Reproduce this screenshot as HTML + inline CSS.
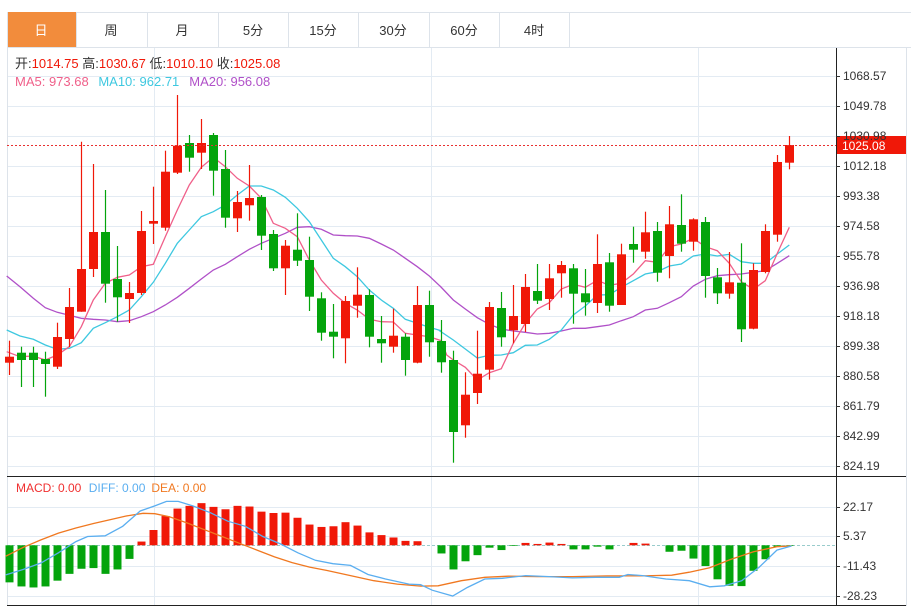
<!DOCTYPE html>
<html><head><meta charset="utf-8"><style>
body{margin:0;background:#fff;width:911px;height:608px;overflow:hidden;font-family:"Liberation Sans","Noto Sans CJK SC",sans-serif}
svg{position:absolute;left:0;top:0}
</style></head><body>
<svg id="s" width="911" height="608" xmlns="http://www.w3.org/2000/svg" font-family="Liberation Sans, Noto Sans CJK SC, sans-serif">
<rect x="0" y="0" width="911" height="608" fill="#fff"/>
<!-- tabs -->
<line x1="7" y1="12.5" x2="911" y2="12.5" stroke="#dde3ea"/>
<line x1="7" y1="47.5" x2="911" y2="47.5" stroke="#dde3ea"/>
<rect x="7" y="12" width="69" height="35" fill="#f28c3c"/>
<g stroke="#dde3ea">
<line x1="7.5" y1="12" x2="7.5" y2="47"/><line x1="76.5" y1="12" x2="76.5" y2="47"/><line x1="147.5" y1="12" x2="147.5" y2="47"/><line x1="218.5" y1="12" x2="218.5" y2="47"/><line x1="288.5" y1="12" x2="288.5" y2="47"/><line x1="358.5" y1="12" x2="358.5" y2="47"/><line x1="429.5" y1="12" x2="429.5" y2="47"/><line x1="499.5" y1="12" x2="499.5" y2="47"/><line x1="569.5" y1="12" x2="569.5" y2="47"/>
</g>
<g font-size="13" text-anchor="middle" fill="#333">
<text x="41" y="35" fill="#fff">日</text><text x="111" y="35">周</text><text x="182" y="35">月</text><text x="253" y="35">5分</text><text x="323" y="35">15分</text><text x="393" y="35">30分</text><text x="464" y="35">60分</text><text x="534" y="35">4时</text>
</g>
<g id="grid" stroke="#e3ebf3" stroke-width="1"></g>
<line x1="7.5" y1="48" x2="7.5" y2="606" stroke="#dde3ea"/>
<line x1="906.5" y1="48" x2="906.5" y2="606" stroke="#dde3ea"/>
<line x1="836.5" y1="48" x2="836.5" y2="606" stroke="#222"/>
<line x1="7" y1="476.5" x2="906" y2="476.5" stroke="#222"/>
<line x1="7" y1="605.5" x2="906" y2="605.5" stroke="#222"/>
<g id="ma"></g>
<g id="cd"></g>
<g id="mc"></g>
<line x1="7" y1="145.5" x2="836" y2="145.5" stroke="#e83030" stroke-dasharray="2,2"/>
<rect x="837" y="136" width="69" height="18" fill="#f01808"/>
<text x="842" y="150" font-size="12" fill="#fff">1025.08</text>
<g id="lab" font-size="12" fill="#333"></g>
<text x="15" y="68" font-size="13" fill="#333">开:<tspan fill="#f01808">1014.75</tspan>  高:<tspan fill="#f01808">1030.67</tspan>  低:<tspan fill="#f01808">1010.10</tspan>  收:<tspan fill="#f01808">1025.08</tspan></text>
<text x="15" y="86" font-size="13" fill="#f0608a">MA5: 973.68 <tspan fill="#3ec8e0" dx="6">MA10: 962.71</tspan><tspan fill="#b050c8" dx="10">MA20: 956.08</tspan></text>
<text x="16" y="492" font-size="12" fill="#f03030">MACD: 0.00 <tspan fill="#5aaef0" dx="4">DIFF: 0.00</tspan><tspan fill="#f07820" dx="6">DEA: 0.00</tspan></text>
</svg>
<script>
var NS="http://www.w3.org/2000/svg";
function el(p,t,a){var e=document.createElementNS(NS,t);for(var k in a)e.setAttribute(k,a[k]);document.getElementById(p).appendChild(e);return e;}
// grid
var py=[76,106,136,166,196,226,256,286,316,346,376,406,436,466];
var pl=["1068.57","1049.78","1030.98","1012.18","993.38","974.58","955.78","936.98","918.18","899.38","880.58","861.79","842.99","824.19"];
py.forEach(function(y,i){el("grid","line",{x1:7,x2:836,y1:y+.5,y2:y+.5});el("lab","line",{x1:836,x2:840,y1:y+.5,y2:y+.5,stroke:"#333"});var t=el("lab","text",{x:843,y:y+4});t.textContent=pl[i];});
var my=[507,536,566,596],ml=["22.17","5.37","-11.43","-28.23"];
my.forEach(function(y,i){el("grid","line",{x1:7,x2:836,y1:y+.5,y2:y+.5});el("lab","line",{x1:836,x2:840,y1:y+.5,y2:y+.5,stroke:"#333"});var t=el("lab","text",{x:843,y:y+4});t.textContent=ml[i];});
[154,431,698].forEach(function(x){el("grid","line",{x1:x+.5,x2:x+.5,y1:48,y2:606});});
// candles: color, bodyTop, bodyBot, wickTop, wickBot
var C=[
[1,356.7,362.7,340.7,375],[0,352.7,360,346.7,387],[0,352.7,360,346.7,387],[0,359,364,351.7,396.7],[1,337,366.7,322.7,369],[1,307,339,288,347],[1,269,311.7,141.7,311.7],[1,232,269,164,277],[0,232,283.7,190,302.7],[0,279,297.3,246,321.7],
[1,293,299,282,323],[1,231,293,211,295],[1,221,223.7,186.7,244],[1,171.7,227.7,150.7,230.7],[1,145.7,172.7,95,174],[0,143,157.7,135,171.7],[1,143,152.7,119,169],[0,135,170.7,133,195.7],[0,169,217.7,150,227.7],[1,202,218.3,191,232],
[1,198,205.3,165,220.7],[0,197,235.7,195,250],[0,234,268.3,230,271],[1,245.7,268.3,240,295],[0,249.7,260.7,213.3,266],[0,260,296.7,236.7,311],[0,298.3,332.7,292.3,340.7],[0,331.7,336.7,304,358.3],[1,301,338.3,296,363.3],[1,294.7,305.7,267.3,317.7],
[0,295,336.7,289.3,347.3],[0,339,343.3,316,362.7],[1,335.7,346.7,308.7,352.7],[0,336.7,360,333.3,375.7],[1,305,362.7,286,363.3],[0,305,342.3,290.7,356.7],[0,341,362.3,320,372.7],[0,360,432,350.7,462.7],[1,394.7,425.3,372.3,437.7],[1,373.7,393,330.7,404],
[1,307,369.7,302,379.7],[0,308,337.3,292,346.7],[1,316,330.3,285,343.3],[1,287,324,274,332],[0,291,300.7,264,304],[1,278.3,299,264,310],[1,265,273.3,261,297.7],[0,268.3,293.7,264,323.7],[0,293.3,302.3,269,315.7],[1,264,303,234.3,313],
[0,262.3,305.7,253,311.7],[1,254.3,305,243.7,305],[0,244,249.7,226.7,262.7],[1,232.3,251.7,211.7,258.7],[0,231,272.7,222,281.7],[1,224.3,256,206,278.3],[0,225,243.7,194.3,251.7],[1,219.3,241.7,218.3,250.7],[0,222,276,217,297.7],[0,277.3,293.3,268,304],
[1,282.3,293.7,252,298.7],[0,282.7,329.3,243.3,342],[1,270,328.7,263.3,329.3],[1,231,272,224.3,273.3],[1,162,234.7,155,241.7],[1,145,162.7,136,169.3]];
C.forEach(function(c,i){var x=9.5+12*i,col=c[0]?"#f01808":"#04a40c";
el("cd","line",{x1:x,x2:x,y1:c[3],y2:c[4],stroke:col,"stroke-width":1.2});
el("cd","rect",{x:x-4.5,y:c[1],width:9,height:Math.max(1.5,c[2]-c[1]),fill:col});});
// MA lines: zoom2 coords (x/3, 80+y/3) then zoom3 coords (440+x/3,130+y/3)
function pts(a,b){var s=[];for(var i=0;i<a.length;i+=2)s.push((a[i]/3).toFixed(1)+","+(80+a[i+1]/3).toFixed(1));for(i=0;i<b.length;i+=2)s.push((440+b[i]/3).toFixed(1)+","+(130+b[i+1]/3).toFixed(1));return s.join(" ");}
var m5a=[20,815,60,830,100,828,136,840,172,825,208,800,244,740,280,660,316,610,352,592,388,585,424,560,460,553,496,470,532,390,568,315,604,262,640,232,676,260,712,295,748,318,784,355,820,430,856,445,892,470,928,540,964,600,1000,640,1036,670,1072,690,1108,718,1144,725,1180,726,1216,760,1252,765,1288,770,1324,782],
m5b=[20,675,40,690,76,712,112,750,148,728,184,716,220,640,256,580,292,537,328,518,364,477,400,463,436,472,472,451,508,466,544,460,580,432,616,392,652,397,688,350,724,342,760,325,796,350,832,362,868,400,904,455,940,478,976,452,1012,370,1048,292];
var m10a=[20,750,60,768,100,778,136,795,172,808,208,805,244,788,280,745,316,728,352,710,388,690,424,650,460,607,496,550,532,490,568,450,604,410,640,395,676,375,712,345,748,318,784,318,820,330,856,352,892,385,928,425,964,480,1000,535,1036,560,1072,590,1108,630,1144,660,1180,685,1216,718,1252,730,1288,742,1324,752],
m10b=[0,603,40,630,76,657,112,684,148,676,184,675,220,668,256,646,292,645,328,628,364,600,400,555,436,528,472,495,508,494,544,472,580,452,616,432,652,425,688,408,724,402,760,378,796,372,832,378,868,373,904,395,940,400,976,400,1012,372,1048,345];
var m20a=[20,588,60,620,100,655,136,683,172,697,208,706,244,715,280,718,316,720,352,725,388,722,424,710,460,695,496,675,532,652,568,625,604,597,640,570,676,553,712,530,748,508,784,490,820,475,856,460,892,442,928,440,964,448,1000,465,1036,467,1072,468,1108,475,1144,492,1180,510,1216,535,1252,560,1288,588,1324,622],
m20b=[0,468,40,510,76,537,112,563,148,583,184,597,220,603,256,607,292,612,328,610,364,603,400,595,436,595,472,590,508,585,544,572,580,560,616,540,652,535,688,518,724,500,760,468,796,448,832,437,868,434,904,432,940,427,976,422,1012,400,1048,377];
el("ma","polyline",{points:pts(m20a,m20b),fill:"none",stroke:"#b050c8","stroke-width":1.3});
el("ma","polyline",{points:pts(m10a,m10b),fill:"none",stroke:"#3ec8e0","stroke-width":1.3});
el("ma","polyline",{points:pts(m5a,m5b),fill:"none",stroke:"#f0608a","stroke-width":1.3});
// MACD
function my_(Y){return 545.3+(Y-226)*0.34;}
var H=[335,347,350,347,330,310,295,293,310,297,266,215,181,140,118,110,102,113,120,110,112,127,131,130,145,165,172,170,158,168,188,196,203,213,214,226,250,297,273,255,233,240,228,219,222,218,222,238,238,230,238,226,219,221,226,245,242,265,287,326,345,346,301,267,231,228];
el("mc","line",{x1:7,x2:836,y1:545.5,y2:545.5,stroke:"#9cc",  "stroke-dasharray":"3,2"});
H.forEach(function(Y,i){var x=9.5+12*i,y=my_(Y),z=545.3;if(Math.abs(y-z)<0.6)return;
el("mc","rect",{x:x-4,y:Math.min(y,z),width:8,height:Math.abs(y-z),fill:Y<226?"#f01808":"#04a40c"});});
function mp(a){var s=[];for(var i=0;i<a.length;i+=2)s.push((a[i]/1.712).toFixed(1)+","+my_(a[i+1]).toFixed(1));return s.join(" ");}
var dif=[10,313,40,297,70,278,100,248,130,215,150,200,180,198,210,170,240,125,265,110,285,97,305,97,330,110,360,130,390,155,420,170,450,200,480,222,510,248,540,270,570,280,600,285,630,312,660,325,700,340,720,342,740,358,775,375,800,350,830,325,860,323,900,315,940,318,980,322,1020,320,1060,320,1075,312,1100,315,1140,325,1180,330,1215,348,1240,345,1270,330,1300,290,1330,240,1355,228];
var dea=[10,258,40,232,70,210,100,190,130,175,160,162,190,150,215,140,245,132,265,133,290,142,320,160,350,180,380,200,410,220,440,240,470,260,500,277,530,290,560,300,600,315,640,330,680,340,720,346,750,345,790,330,830,320,870,317,920,318,980,318,1040,316,1100,316,1150,314,1180,305,1215,292,1250,268,1290,245,1330,230,1355,228];
el("mc","polyline",{points:mp(dea),fill:"none",stroke:"#f07820","stroke-width":1.3});
el("mc","polyline",{points:mp(dif),fill:"none",stroke:"#5aaef0","stroke-width":1.3});
</script>
</body></html>
